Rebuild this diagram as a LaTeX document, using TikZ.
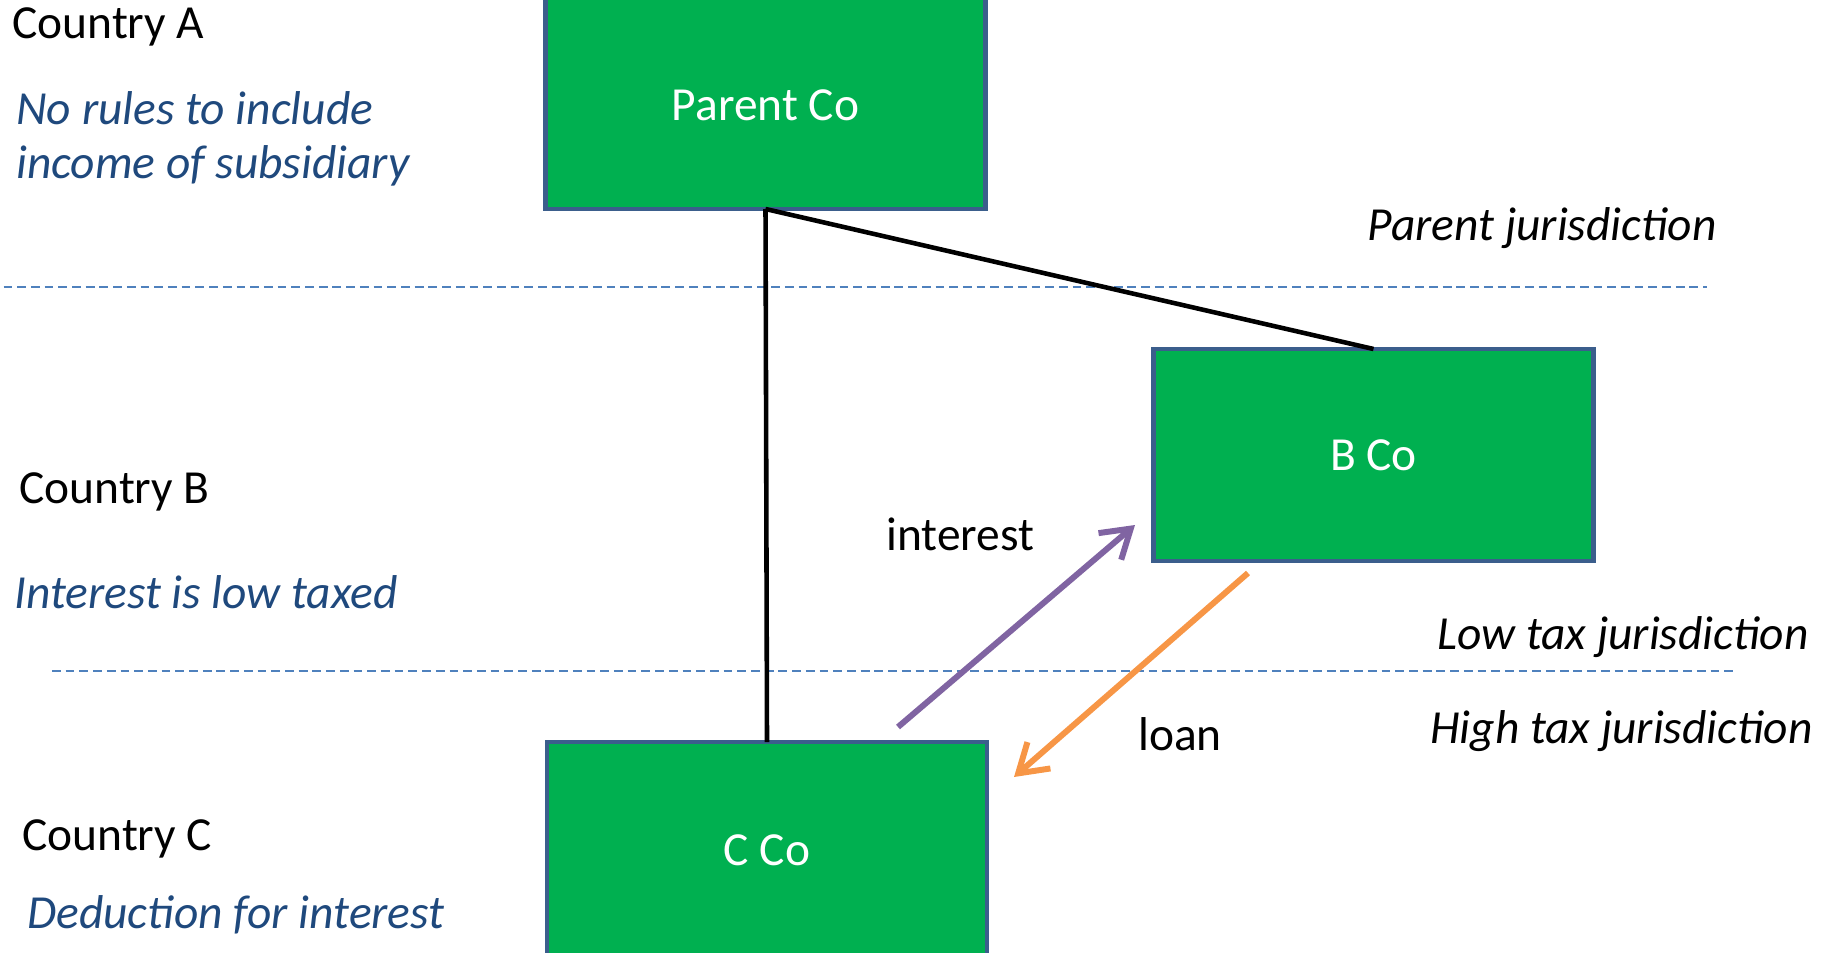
\documentclass[tikz,border=0pt]{standalone}
\usepackage{fontspec}
\setmainfont{Carlito}
\usetikzlibrary{arrows.meta}

\definecolor{cogreen}{HTML}{00B050}
\definecolor{coedge}{HTML}{3B5E8C}
\definecolor{notes}{HTML}{1F497D}
\definecolor{line}{HTML}{4F81BD}
\definecolor{paid}{HTML}{8064A2}
\definecolor{lent}{HTML}{F79646}

\begin{document}
\begin{tikzpicture}[
  company/.style = {draw = coedge, line width = 2.4pt, fill = cogreen, text = white,
    inner sep = 0, outer sep = 0, minimum width = 8.8cm, minimum height = 4.24cm},
  label/.style = {inner sep = 0},
  note/.style = {inner sep = 0, text = notes, font = \itshape},
  boundary/.style = {draw = line, line width = .8pt, dash pattern = on 5pt off 2.8pt},
  flow/.style = {line width = 3.4pt, -{Straight Barb[length = .55cm, width = .7cm]}}
]
\fontsize{27}{30.7}\selectfont
\useasboundingbox (0, 0) rectangle (36.58cm, -19.06cm);

\draw [boundary] (0.07cm, -5.74cm) -- (34.14cm, -5.74cm);
\draw [boundary] (1.04cm, -13.42cm) -- (34.7cm, -13.42cm);

\node [company, minimum height = 4.3cm, text height = .76cm, text depth = 0pt] (parent) at (15.31cm, -2.03cm) {Parent Co};
\node [company] (bco) at (27.47cm, -9.1cm) {B Co};
\node [company, minimum height = 4.32cm] (cco) at (15.34cm, -17cm) {C Co};

\draw [line width = 2.6pt] (parent.south) -- (cco.north);
\draw [line width = 2.6pt] (parent.south) -- (bco.north);

\coordinate (pa) at (17.96cm, -14.54cm);
\coordinate (pb) at (22.7cm, -10.5cm);
\coordinate (la) at (24.96cm, -11.46cm);
\coordinate (lb) at (20.28cm, -15.54cm);
\draw [flow, paid] (pa) -- (pb);
\draw [flow, lent] (la) -- (lb);

\node [label, anchor = base west] (interest) at (17.72cm, -11cm) {interest};
\node [label, anchor = base west] (loan) at (22.76cm, -15cm) {loan};

\node [label, anchor = base west] (ca) at (0.24cm, -0.78cm) {Country A};
\node [note, anchor = base west] (na) at (0.32cm, -2.5cm) {No rules to include};
\node [note, anchor = base west] (nasub) at (0.32cm, -3.58cm) {income of subsidiary};
\node [label, anchor = base west] (cb) at (0.38cm, -10.06cm) {Country B};
\node [note, anchor = base west] (nb) at (0.28cm, -12.16cm) {Interest is low taxed};
\node [label, anchor = base west] (cc) at (0.44cm, -17cm) {Country C};
\node [note, anchor = base west] (nc) at (0.54cm, -18.56cm) {Deduction for interest};

\node [label, font = \itshape, anchor = base east] (jp) at (34.34cm, -4.82cm) {Parent jurisdiction};
\node [label, font = \itshape, anchor = base east] (jl) at (36.18cm, -12.98cm) {Low tax jurisdiction};
\node [label, font = \itshape, anchor = base east] (jh) at (36.26cm, -14.86cm) {High tax jurisdiction};
\end{tikzpicture}
\end{document}
